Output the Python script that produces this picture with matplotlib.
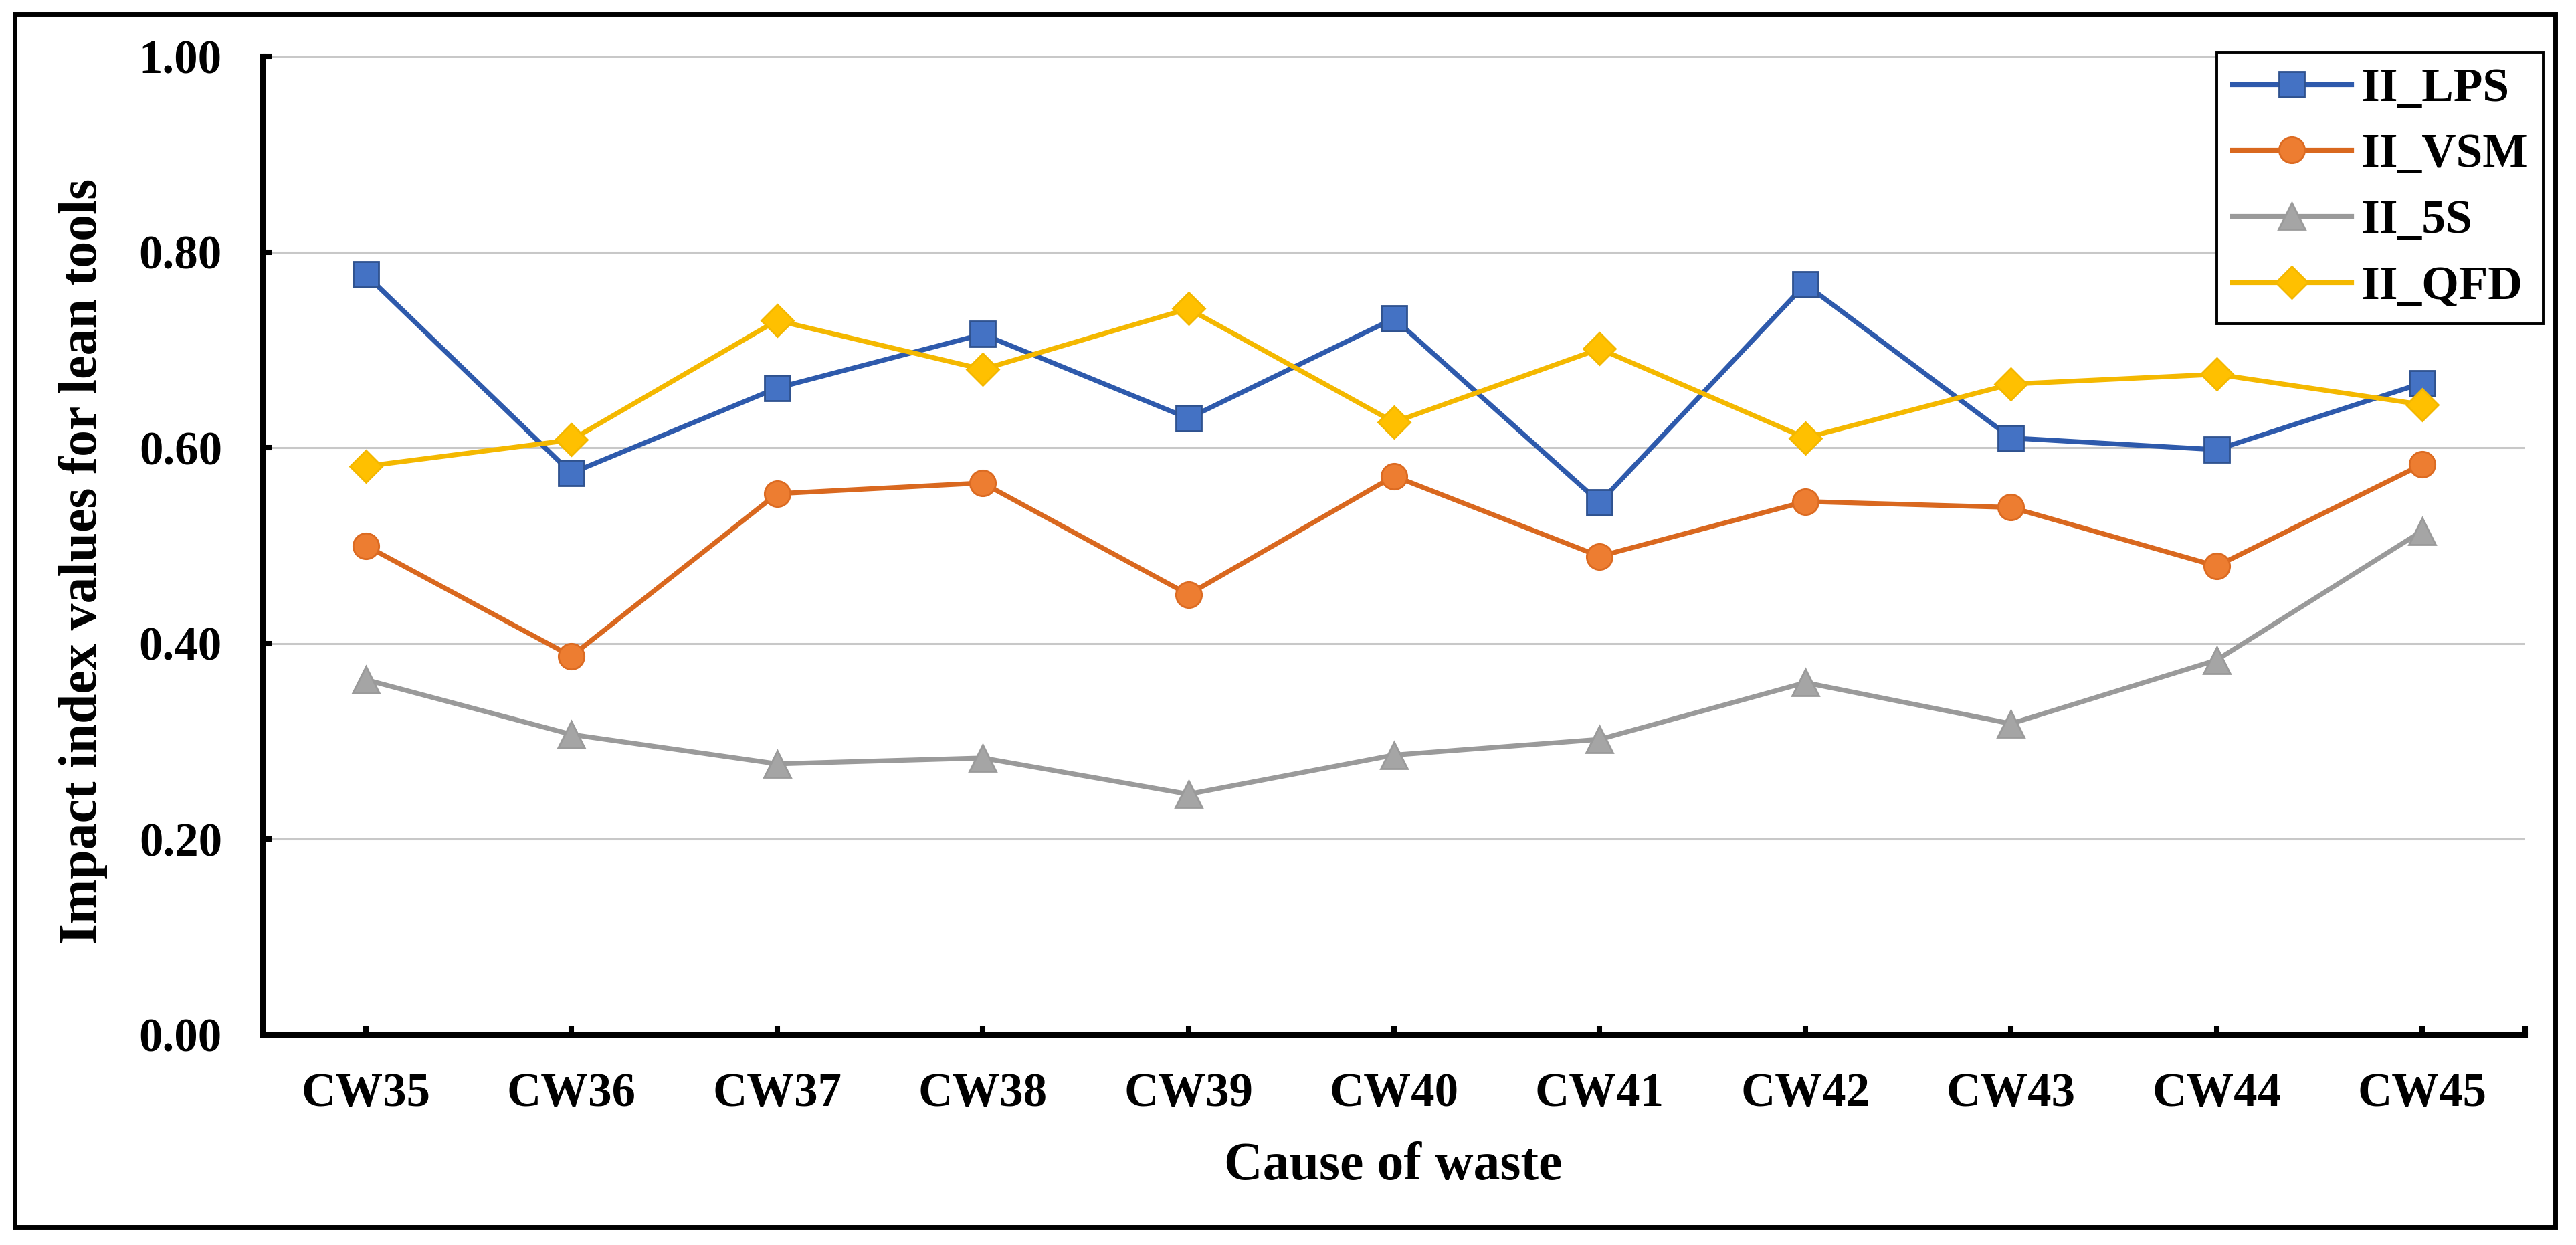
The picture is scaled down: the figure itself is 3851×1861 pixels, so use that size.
#!/usr/bin/env python3
"""Line chart: impact index values for lean tools by cause of waste (CW35-CW45)."""

import matplotlib
matplotlib.use("Agg")
import matplotlib.pyplot as plt
from matplotlib.patches import Rectangle

categories = ["CW35", "CW36", "CW37", "CW38", "CW39", "CW40",
              "CW41", "CW42", "CW43", "CW44", "CW45"]
ii_lps = [0.777, 0.574, 0.661, 0.716, 0.630, 0.732, 0.544, 0.767, 0.610, 0.598, 0.666]
ii_vsm = [0.500, 0.387, 0.553, 0.564, 0.450, 0.571, 0.489, 0.545, 0.539, 0.479, 0.583]
ii_5s = [0.363, 0.307, 0.277, 0.283, 0.246, 0.286, 0.302, 0.360, 0.318, 0.383, 0.515]
ii_qfd = [0.581, 0.608, 0.730, 0.680, 0.742, 0.626, 0.701, 0.610, 0.665, 0.675, 0.644]
yticks = [0.0, 0.2, 0.4, 0.6, 0.8, 1.0]

W, H, DPI = 3851, 1861, 200


def px(x, y):
    """pixel (from top-left) -> figure fraction"""
    return x / W, 1 - y / H


def main() -> None:
    plt.rcParams["font.family"] = ["Liberation Serif", "DejaVu Serif"]
    plt.rcParams["font.weight"] = "bold"

    fig = plt.figure(figsize=(W / DPI, H / DPI), dpi=DPI)
    l, b = px(393, 1547)
    r, t = px(3775, 84)
    ax = fig.add_axes([l, b, r - l, t - b])

    series = [
        ("II_LPS", ii_lps, "s", 14.0, "#2E5AAC", "#4472C4", "#2F528F"),
        ("II_VSM", ii_vsm, "o", 13.8, "#D9681F", "#ED7D31", "#DC6B22"),
        ("II_5S", ii_5s, "^", 14.5, "#9A9A9A", "#A5A5A5", "#9A9A9A"),
        ("II_QFD", ii_qfd, "D", 12.0, "#F4B800", "#FFC000", "#F4B800"),
    ]
    x = list(range(len(categories)))
    for name, vals, mk, ms, lc, fc, ec in series:
        ax.plot(x, vals, color=lc, lw=2.6, marker=mk, markersize=ms,
                markerfacecolor=fc, markeredgecolor=ec, markeredgewidth=1.0,
                label=name, zorder=3)

    ax.set_xlim(-0.5, len(categories) - 0.5)
    ax.set_ylim(0, 1)
    ax.set_xticks(x)
    ax.set_xticklabels(categories)
    ax.set_xticks([len(categories) - 0.5], minor=True)
    ax.set_yticks(yticks)
    ax.set_yticklabels([f"{v:.2f}" for v in yticks])

    ax.grid(axis="y", color="#C8C8C8", lw=1.1, zorder=0)
    ax.set_axisbelow(True)
    for side in ("top", "right"):
        ax.spines[side].set_visible(False)
    for side in ("left", "bottom"):
        ax.spines[side].set_linewidth(2.9)
        ax.spines[side].set_capstyle("projecting")

    ax.tick_params(axis="both", which="both", direction="in", length=4.7,
                   width=2.9, colors="black", labelsize=25.5)
    ax.tick_params(axis="x", pad=20.5)
    ax.tick_params(axis="y", pad=22)
    for lab in ax.get_xticklabels() + ax.get_yticklabels():
        lab.set_fontweight("bold")

    fig.text(*px(2083, 1763), "Cause of waste", ha="center", va="baseline",
             fontsize=28.7, fontweight="bold")
    fig.text(*px(124, 839), "Impact index values for lean tools", rotation=90,
             ha="center", va="center", fontsize=28.7, fontweight="bold")

    leg = ax.legend(loc="upper right", bbox_to_anchor=px(3802, 78),
                    bbox_transform=fig.transFigure, fontsize=25.7,
                    frameon=True, fancybox=False, framealpha=1,
                    edgecolor="black", handlelength=2.5, handletextpad=0.2,
                    labelspacing=0.47, borderpad=0.32, borderaxespad=0)
    leg.get_frame().set_linewidth(1.4)
    for txt in leg.get_texts():
        txt.set_fontweight("bold")

    # outer frame round the whole picture
    x0, y0 = px(22, 1834)
    x1, y1 = px(3820, 21)
    fig.add_artist(Rectangle((x0, y0), x1 - x0, y1 - y0, transform=fig.transFigure,
                             fill=False, edgecolor="black", lw=2.5))

    fig.savefig("out.png", dpi=DPI)
    plt.close(fig)


if __name__ == "__main__":
    main()
